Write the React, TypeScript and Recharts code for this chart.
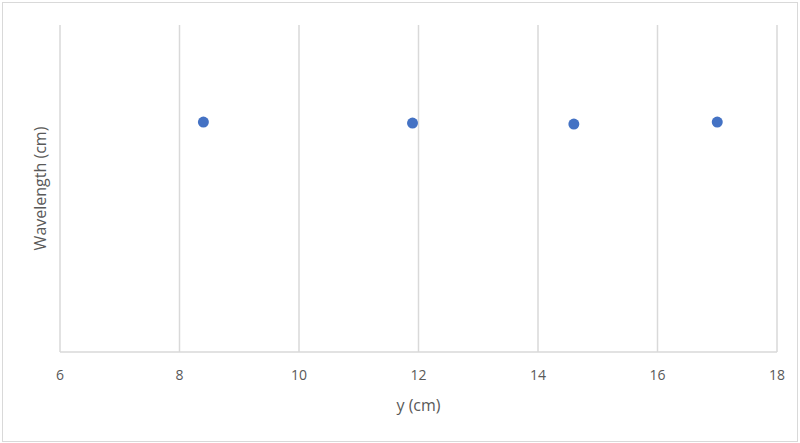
import { ScatterChart, Scatter, XAxis, YAxis, CartesianGrid, Label } from 'recharts';

const xValues = [8.4, 11.9, 14.6, 17.0];
const yValues = [7.03, 7.0, 6.97, 7.03];
const xTicks = [6, 8, 10, 12, 14, 16, 18];

const points = xValues.map((x, i) => ({ x, y: yValues[i] }));

const font = '"Open Sans", "Liberation Sans", Arial, sans-serif';

// dot drawn at the position recharts computes
const Dot = (props: any) => <circle cx={props.cx} cy={props.cy} r={5.5} fill="#4472C4" />;

export default function App() {
  return (
    <div style={{ position: 'relative', width: 800, height: 443, background: '#fff' }}>
      <style>{'body{margin:0}'}</style>
      <div
        style={{
          position: 'absolute',
          left: 2,
          top: 2,
          width: 794,
          height: 438,
          border: '1px solid #d9d9d9',
        }}
      />
      <ScatterChart
        width={800}
        height={443}
        margin={{ top: 25, right: 23, left: 0, bottom: 21 }}
        style={{ position: 'absolute', left: 0, top: 0, fontFamily: font }}
      >
        <CartesianGrid horizontal={false} stroke="#d9d9d9" strokeWidth={1.5} />
        <XAxis
          type="number"
          dataKey="x"
          domain={[6, 18]}
          ticks={xTicks}
          height={70}
          tickLine={false}
          axisLine={{ stroke: '#d9d9d9', strokeWidth: 1.5 }}
          tick={{ fontSize: 14, fill: '#595959' }}
          tickMargin={12}
        >
          <Label value="y (cm)" position="insideBottom" offset={11} style={{ fontSize: 16, fill: '#595959' }} />
        </XAxis>
        <YAxis
          type="number"
          dataKey="y"
          domain={[0, 10]}
          width={60}
          tick={false}
          tickLine={false}
          axisLine={false}
        >
          <Label value="Wavelength (cm)" angle={-90} position="center" dx={10} style={{ fontSize: 16, fill: '#595959', textAnchor: 'middle' }} />
        </YAxis>
        <Scatter data={points} fill="#4472C4" shape={Dot} isAnimationActive={false} />
      </ScatterChart>
    </div>
  );
}
